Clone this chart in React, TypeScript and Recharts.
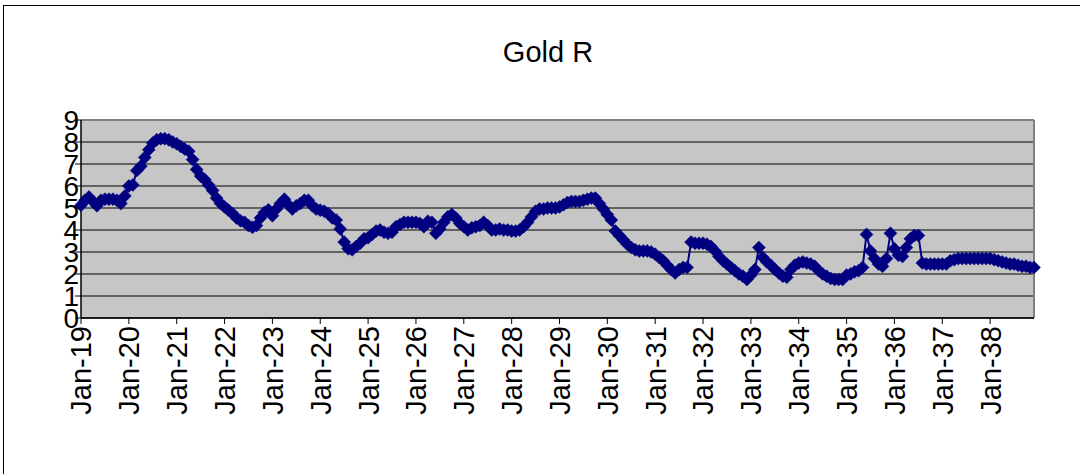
import { CartesianGrid, Line, LineChart, ReferenceLine, XAxis, YAxis } from "recharts";

// monthly Gold R readings, one array per year (Jan..Dec)
const gold19 = [5.13, 5.35, 5.5, 5.3, 5.1, 5.35, 5.4, 5.4, 5.4, 5.35, 5.2, 5.55];
const gold20 = [6.0, 6.05, 6.7, 6.9, 7.3, 7.65, 7.95, 8.1, 8.15, 8.15, 8.1, 8.0];
const gold21 = [7.92, 7.8, 7.68, 7.58, 7.2, 6.75, 6.45, 6.3, 6.05, 5.8, 5.45, 5.2];
const gold22 = [5.05, 4.9, 4.75, 4.55, 4.42, 4.35, 4.2, 4.12, 4.2, 4.55, 4.8, 4.92];
const gold23 = [4.65, 4.95, 5.2, 5.4, 5.15, 4.95, 5.1, 5.2, 5.35, 5.35, 5.1, 4.95];
const gold24 = [4.9, 4.85, 4.75, 4.55, 4.45, 4.05, 3.45, 3.15, 3.1, 3.25, 3.4, 3.6];
const gold25 = [3.65, 3.8, 3.95, 4.0, 3.9, 3.85, 3.9, 4.15, 4.25, 4.35, 4.35, 4.35];
const gold26 = [4.35, 4.3, 4.15, 4.4, 4.35, 3.85, 4.05, 4.35, 4.6, 4.7, 4.55, 4.3];
const gold27 = [4.15, 4.0, 4.1, 4.15, 4.2, 4.35, 4.2, 4.0, 4.0, 4.05, 4.0, 4.0];
const gold28 = [3.95, 3.95, 4.0, 4.15, 4.35, 4.6, 4.85, 4.95, 4.95, 5.0, 5.0, 5.0];
const gold29 = [5.05, 5.15, 5.25, 5.3, 5.3, 5.3, 5.35, 5.4, 5.45, 5.45, 5.2, 4.95];
const gold30 = [4.7, 4.45, 3.95, 3.75, 3.55, 3.35, 3.2, 3.1, 3.05, 3.05, 3.05, 3.0];
const gold31 = [2.9, 2.75, 2.6, 2.4, 2.2, 2.05, 2.2, 2.3, 2.3, 3.45, 3.4, 3.4];
const gold32 = [3.4, 3.35, 3.25, 3.05, 2.8, 2.6, 2.45, 2.3, 2.15, 2.0, 1.9, 1.75];
const gold33 = [1.95, 2.2, 3.2, 2.75, 2.55, 2.4, 2.2, 2.05, 1.9, 1.85, 2.2, 2.4];
const gold34 = [2.5, 2.55, 2.5, 2.45, 2.35, 2.15, 2.0, 1.9, 1.8, 1.75, 1.75, 1.75];
const gold35 = [1.95, 2.0, 2.1, 2.15, 2.3, 3.8, 3.05, 2.7, 2.45, 2.35, 2.7, 3.85];
const gold36 = [3.15, 2.85, 2.8, 3.2, 3.6, 3.75, 3.75, 2.5, 2.45, 2.45, 2.45, 2.45];
const gold37 = [2.45, 2.45, 2.6, 2.65, 2.7, 2.7, 2.7, 2.7, 2.7, 2.7, 2.7, 2.7];
const gold38 = [2.7, 2.65, 2.6, 2.55, 2.5, 2.45, 2.45, 2.4, 2.35, 2.35, 2.3, 2.3];

const YEARS = ["19", "20", "21", "22", "23", "24", "25", "26", "27", "28", "29", "30", "31", "32", "33", "34", "35", "36", "37", "38"];
const MONTHS = ["Jan", "Feb", "Mar", "Apr", "May", "Jun", "Jul", "Aug", "Sep", "Oct", "Nov", "Dec"];
const SERIES = [gold19, gold20, gold21, gold22, gold23, gold24, gold25, gold26, gold27, gold28, gold29, gold30, gold31, gold32, gold33, gold34, gold35, gold36, gold37, gold38];
const Y_TICKS = [0, 1, 2, 3, 4, 5, 6, 7, 8, 9];

const data = SERIES.flatMap((vals, yi) =>
  vals.map((v, mi) => ({ month: `${MONTHS[mi]}-${YEARS[yi]}`, value: v })),
);

const FONT = "'Liberation Sans', Arial, sans-serif";
const NAVY = "#000080";

function Diamond(props: { cx?: number; cy?: number; index?: number }) {
  const { cx, cy, index } = props;
  if (cx == null || cy == null) return null;
  const w = 6.5;
  const h = 6.5;
  return (
    <path
      key={index}
      d={`M${cx},${cy - h}L${cx + w},${cy}L${cx},${cy + h}L${cx - w},${cy}Z`}
      fill={NAVY}
      stroke={NAVY}
      strokeWidth={0.5}
    />
  );
}

function XTick(props: { x?: number; y?: number; payload?: { value: string } }) {
  const { x = 0, y = 0, payload } = props;
  return (
    <text
      x={x}
      y={y}
      transform={`rotate(-90, ${x}, ${y})`}
      textAnchor="end"
      dy="0.36em"
      fontSize={29}
      fontFamily={FONT}
      fill="#000"
    >
      {payload?.value}
    </text>
  );
}

// Excel squeezes the value labels right up against the axis
function YTick(props: { x?: number; y?: number; payload?: { value: number } }) {
  const { x = 0, y = 0, payload } = props;
  return (
    <text x={x + 6} y={y} textAnchor="end" dy="0.36em" fontSize={28} fontFamily={FONT} fill="#000">
      {payload?.value}
    </text>
  );
}

export default function App() {
  return (
    <div style={{ position: "absolute", left: 0, top: 0, width: 1080, height: 474, background: "#fff", overflow: "hidden" }}>
      <div
        style={{
          position: "absolute",
          left: 3,
          top: 5,
          width: 1090,
          height: 480,
          border: "1px solid #000",
          boxSizing: "border-box",
        }}
      />
      <div
        style={{
          position: "absolute",
          left: 0,
          top: 36,
          width: 1096,
          textAlign: "center",
          fontFamily: FONT,
          fontSize: 29,
          color: "#000",
        }}
      >
        Gold R
      </div>
      <div style={{ position: "absolute", left: 0, top: 0 }}>
        <LineChart width={1080} height={474} data={data} margin={{ top: 120, right: 46, bottom: 0, left: 0 }}>
          <CartesianGrid vertical={false} stroke="#000" fill="#c6c6c6" fillOpacity={1} />
          <XAxis
            dataKey="month"
            interval={11}
            height={156}
            axisLine={{ stroke: "#000", strokeWidth: 1.5 }}
            tickLine={{ stroke: "#000" }}
            tickSize={6}
            tick={<XTick />}
          />
          <YAxis
            domain={[0, 9]}
            ticks={Y_TICKS}
            width={81}
            interval={0}
            axisLine={{ stroke: "#000", strokeWidth: 1.5 }}
            tickLine={{ stroke: "#000" }}
            tickSize={6}
            tick={<YTick />}
          />
          <ReferenceLine y={9} stroke="#808080" strokeWidth={2} />
          <ReferenceLine x="Dec-38" stroke="#808080" strokeWidth={2} />
          <Line
            type="linear"
            dataKey="value"
            stroke={NAVY}
            strokeWidth={2}
            dot={<Diamond />}
            isAnimationActive={false}
          />
        </LineChart>
      </div>
    </div>
  );
}
